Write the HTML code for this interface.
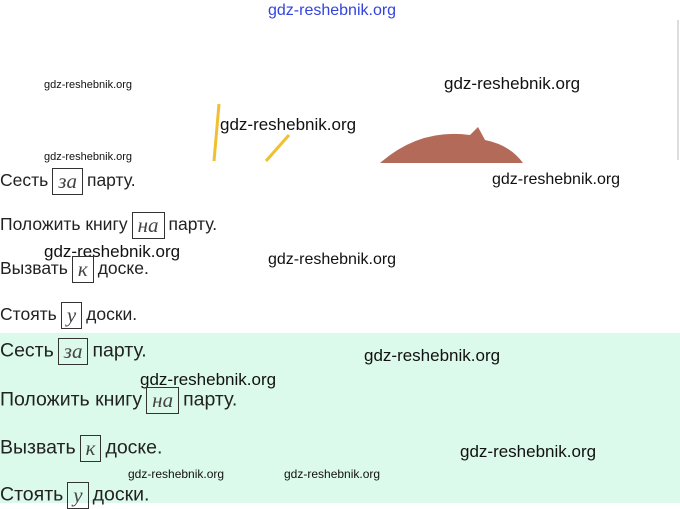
<!DOCTYPE html>
<html><head><meta charset="utf-8"><style>
body{margin:0;width:680px;height:503px;position:relative;overflow:hidden;background:#fff;font-family:"Liberation Sans","DejaVu Sans",sans-serif;}
.a{position:absolute;white-space:nowrap;color:#222;}
.t{font-size:17.5px;}
.g{font-size:19.5px;}
.b{display:inline-block;border:1px solid #333;font-family:"Liberation Serif",serif;font-style:italic;padding:0 5px;line-height:25px;margin:0 4px;vertical-align:middle;color:#444;font-size:21px;}
.w{position:absolute;white-space:nowrap;color:#111;font-family:"Liberation Sans",sans-serif;}
</style></head><body>
<div style="position:absolute;left:0;top:333px;width:680px;height:170px;background:#dcfaeb"></div>
<div style="position:absolute;left:677px;top:20px;width:2px;height:140px;background:#ddd"></div>
<svg style="position:absolute;left:0;top:0" width="680" height="170">
<line x1="219" y1="104" x2="214" y2="161" stroke="#f0c030" stroke-width="3"/>
<line x1="289" y1="135" x2="266" y2="161" stroke="#f0c030" stroke-width="3"/>
<path d="M380 163 Q420 128 470 135 L478 127 L485 140 Q510 145 523 163 Z" fill="#b46a58"/>
</svg>
<div class="w" style="left:268px;top:2px;font-size:16px;color:#3344dd">gdz-reshebnik.org</div>
<div class="w" style="left:44px;top:79px;font-size:11px">gdz-reshebnik.org</div>
<div class="w" style="left:444px;top:74px;font-size:17px">gdz-reshebnik.org</div>
<div class="w" style="left:220px;top:115px;font-size:17px">gdz-reshebnik.org</div>
<div class="w" style="left:44px;top:151px;font-size:11px">gdz-reshebnik.org</div>
<div class="w" style="left:492px;top:171px;font-size:16px">gdz-reshebnik.org</div>
<div class="w" style="left:44px;top:242px;font-size:17px">gdz-reshebnik.org</div>
<div class="w" style="left:268px;top:251px;font-size:16px">gdz-reshebnik.org</div>
<div class="w" style="left:364px;top:346px;font-size:17px">gdz-reshebnik.org</div>
<div class="w" style="left:140px;top:370px;font-size:17px">gdz-reshebnik.org</div>
<div class="w" style="left:460px;top:442px;font-size:17px">gdz-reshebnik.org</div>
<div class="w" style="left:128px;top:467px;font-size:12px">gdz-reshebnik.org</div>
<div class="w" style="left:284px;top:467px;font-size:12px">gdz-reshebnik.org</div>

<div class="a t" style="left:0;top:168px">Сесть<span class="b">за</span>парту.</div>
<div class="a t" style="left:0;top:212px">Положить книгу<span class="b">на</span>парту.</div>
<div class="a t" style="left:0;top:256px">Вызвать<span class="b">к</span>доске.</div>
<div class="a t" style="left:0;top:302px">Стоять<span class="b">у</span>доски.</div>

<div class="a g" style="left:0;top:338px">Сесть<span class="b">за</span>парту.</div>
<div class="a g" style="left:0;top:387px">Положить книгу<span class="b">на</span>парту.</div>
<div class="a g" style="left:0;top:435px">Вызвать<span class="b">к</span>доске.</div>
<div class="a g" style="left:0;top:482px">Стоять<span class="b">у</span>доски.</div>
</body></html>
